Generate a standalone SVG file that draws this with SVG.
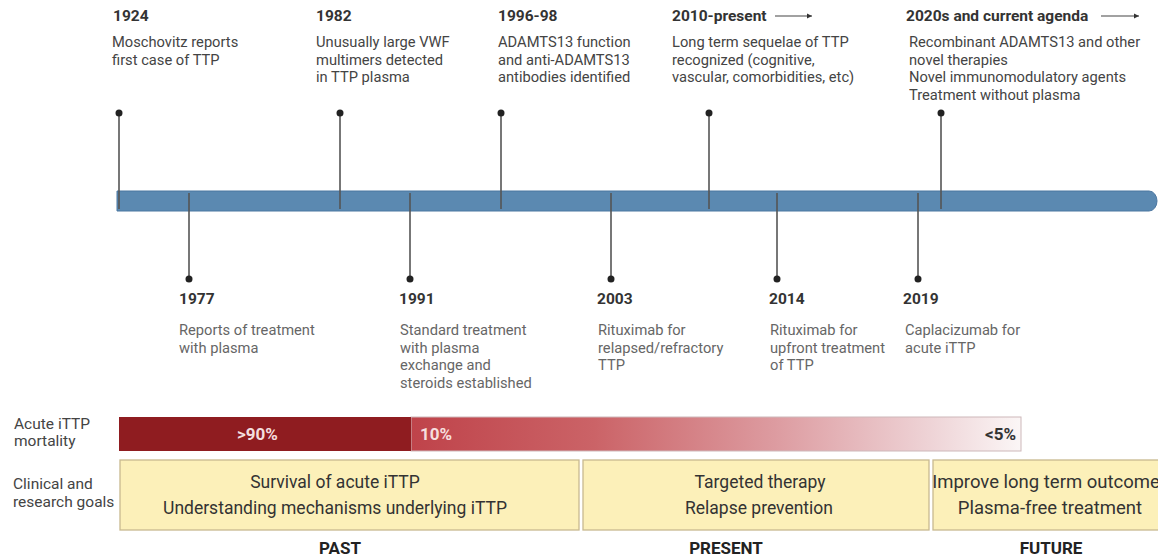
<svg xmlns="http://www.w3.org/2000/svg" width="1158" height="558" viewBox="0 0 1158 558">
<defs>
<style>
text{font-family:Roboto,"Liberation Sans",sans-serif}
.yr{font-size:15.5px;font-weight:bold;fill:#333}
.dt{font-size:14.7px;fill:#444}
.db{font-size:14.7px;fill:#666}
.lb{font-size:15.5px;fill:#444}
.gt{font-size:17.5px;fill:#333;text-anchor:middle}
.gt3{font-size:18.5px;fill:#333;text-anchor:middle}
.era{font-size:17px;font-weight:bold;fill:#222;text-anchor:middle}
.pc{font-size:17px;font-weight:bold}
.stem{stroke:#555;stroke-width:1.6;fill:none}
.dot{fill:#222}
.box{fill:#fcf0b9;stroke:#c8b98f;stroke-width:1.3}
.arr{stroke:#444;stroke-width:1.2;fill:none}
</style>
<linearGradient id="mg" gradientUnits="userSpaceOnUse" x1="411" y1="0" x2="1021" y2="0">
<stop offset="0" stop-color="#bf434a"/>
<stop offset="0.3" stop-color="#cb6367"/>
<stop offset="0.6" stop-color="#dd9ca1"/>
<stop offset="0.85" stop-color="#eed3d6"/>
<stop offset="1" stop-color="#fbf6f6"/>
</linearGradient>
<marker id="ah" markerWidth="6" markerHeight="6" refX="5" refY="3" orient="auto" markerUnits="userSpaceOnUse">
<path d="M0,0.5 L5,3 L0,5.5 Z" fill="#333"/>
</marker>
</defs>
<rect width="1158" height="558" fill="#fff"/>

<g id="timeline">
<path d="M117,191 H1149 a8,10 0 0 1 0,20 H117 Z" fill="#5b89b1" stroke="#4a76a0" stroke-width="1"/>
</g>

<g id="connectors">
<line class="stem" x1="119" y1="113" x2="119" y2="209"/>
<line class="stem" x1="340" y1="113" x2="340" y2="209"/>
<line class="stem" x1="501" y1="113" x2="501" y2="209"/>
<line class="stem" x1="709" y1="113" x2="709" y2="209"/>
<line class="stem" x1="941" y1="113" x2="941" y2="209"/>
<circle class="dot" cx="119" cy="113" r="3.5"/>
<circle class="dot" cx="340" cy="113" r="3.5"/>
<circle class="dot" cx="501" cy="113" r="3.5"/>
<circle class="dot" cx="709" cy="113" r="3.5"/>
<circle class="dot" cx="941" cy="113" r="3.5"/>
<line class="stem" x1="189" y1="193" x2="189" y2="279"/>
<line class="stem" x1="410" y1="193" x2="410" y2="279"/>
<line class="stem" x1="611" y1="193" x2="611" y2="279"/>
<line class="stem" x1="777" y1="193" x2="777" y2="279"/>
<line class="stem" x1="918" y1="193" x2="918" y2="279"/>
<circle class="dot" cx="189" cy="279" r="3.5"/>
<circle class="dot" cx="410" cy="279" r="3.5"/>
<circle class="dot" cx="611" cy="279" r="3.5"/>
<circle class="dot" cx="777" cy="279" r="3.5"/>
<circle class="dot" cx="918" cy="279" r="3.5"/>
</g>

<g id="e1924">
<text class="yr" x="113" y="21">1924</text>
<text class="dt" x="112" y="47">Moschovitz reports</text>
<text class="dt" x="112" y="64.5">first case of TTP</text>
</g>
<g id="e1982">
<text class="yr" x="316" y="21">1982</text>
<text class="dt" x="316" y="47">Unusually large VWF</text>
<text class="dt" x="316" y="64.5">multimers detected</text>
<text class="dt" x="316" y="82">in TTP plasma</text>
</g>
<g id="e1996">
<text class="yr" x="498" y="21">1996-98</text>
<text class="dt" x="498" y="47">ADAMTS13 function</text>
<text class="dt" x="498" y="64.5">and anti-ADAMTS13</text>
<text class="dt" x="498" y="82">antibodies identified</text>
</g>
<g id="e2010">
<text class="yr" x="672" y="21">2010-present</text>
<line class="arr" x1="775" y1="16" x2="812" y2="16" marker-end="url(#ah)"/>
<text class="dt" x="672" y="47">Long term sequelae of TTP</text>
<text class="dt" x="672" y="64.5">recognized (cognitive,</text>
<text class="dt" x="672" y="82">vascular, comorbidities, etc)</text>
</g>
<g id="e2020s">
<text class="yr" x="906" y="21">2020s and current agenda</text>
<line class="arr" x1="1101" y1="16" x2="1139" y2="16" marker-end="url(#ah)"/>
<text class="dt" x="909" y="47">Recombinant ADAMTS13 and other</text>
<text class="dt" x="909" y="64.5">novel therapies</text>
<text class="dt" x="909" y="82">Novel immunomodulatory agents</text>
<text class="dt" x="909" y="99.5">Treatment without plasma</text>
</g>

<g id="e1977">
<text class="yr" x="179" y="304">1977</text>
<text class="db" x="179" y="335">Reports of treatment</text>
<text class="db" x="179" y="352.5">with plasma</text>
</g>
<g id="e1991">
<text class="yr" x="399" y="304">1991</text>
<text class="db" x="400" y="335">Standard treatment</text>
<text class="db" x="400" y="352.5">with plasma</text>
<text class="db" x="400" y="370">exchange and</text>
<text class="db" x="400" y="387.5">steroids established</text>
</g>
<g id="e2003">
<text class="yr" x="597" y="304">2003</text>
<text class="db" x="598" y="335">Rituximab for</text>
<text class="db" x="598" y="352.5">relapsed/refractory</text>
<text class="db" x="598" y="370">TTP</text>
</g>
<g id="e2014">
<text class="yr" x="769" y="304">2014</text>
<text class="db" x="770" y="335">Rituximab for</text>
<text class="db" x="770" y="352.5">upfront treatment</text>
<text class="db" x="770" y="370">of TTP</text>
</g>
<g id="e2019">
<text class="yr" x="903" y="304">2019</text>
<text class="db" x="905" y="335">Caplacizumab for</text>
<text class="db" x="905" y="352.5">acute iTTP</text>
</g>

<g id="mortality">
<text class="lb" x="14" y="429">Acute iTTP</text>
<text class="lb" x="14" y="446">mortality</text>
<rect x="411" y="417" width="610" height="34" fill="url(#mg)" stroke="#cdb8ba" stroke-width="1"/>
<rect x="119" y="417" width="292" height="34" fill="#8f1c20"/>
<text class="pc" x="237" y="439.5" fill="#f3dede">&gt;90%</text>
<text class="pc" x="420" y="439.5" fill="#f6dede">10%</text>
<text class="pc" x="1016" y="439.5" fill="#333" text-anchor="end">&lt;5%</text>
</g>

<g id="goals">
<text class="lb" x="13" y="489">Clinical and</text>
<text class="lb" x="13" y="507">research goals</text>
</g>
<g id="past">
<rect class="box" x="120" y="460" width="459" height="70"/>
<text class="gt" x="335" y="488">Survival of acute iTTP</text>
<text class="gt" x="335" y="514">Understanding mechanisms underlying iTTP</text>
<text class="era" x="340" y="554">PAST</text>
</g>
<g id="present">
<rect class="box" x="583" y="460" width="346" height="70"/>
<text class="gt" x="760" y="488">Targeted therapy</text>
<text class="gt" x="759" y="514">Relapse prevention</text>
<text class="era" x="726" y="554">PRESENT</text>
</g>
<g id="future">
<rect class="box" x="933" y="460" width="230" height="70"/>
<text class="gt3" x="1046" y="488">Improve long term outcome</text>
<text class="gt3" x="1050" y="514">Plasma-free treatment</text>
<text class="era" x="1051" y="554">FUTURE</text>
</g>
</svg>
